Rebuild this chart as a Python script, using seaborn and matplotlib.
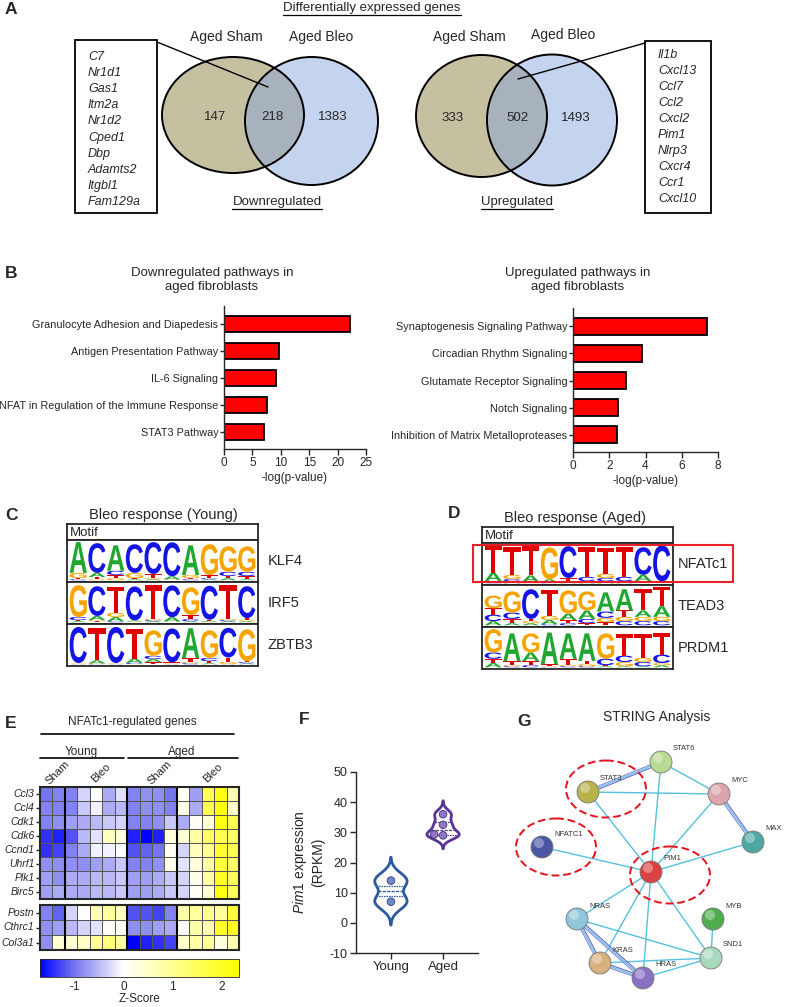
import numpy as np
import pandas as pd
import matplotlib
matplotlib.use('Agg')
import matplotlib.pyplot as plt
import seaborn as sns
from matplotlib.patches import Ellipse, Rectangle, Circle, PathPatch
from matplotlib.textpath import TextPath
from matplotlib.font_manager import FontProperties
from matplotlib.transforms import Affine2D
from matplotlib.colors import LinearSegmentedColormap

# ---- data ----
venn_down = [147, 218, 1383]
venn_up = [333, 502, 1493]
genes_down = ['C7', 'Nr1d1', 'Gas1', 'Itm2a', 'Nr1d2', 'Cped1', 'Dbp', 'Adamts2', 'Itgbl1', 'Fam129a']
genes_up = ['Il1b', 'Cxcl13', 'Ccl7', 'Ccl2', 'Cxcl2', 'Pim1', 'Nlrp3', 'Cxcr4', 'Ccr1', 'Cxcl10']

down_paths = ['Granulocyte Adhesion and Diapedesis', 'Antigen Presentation Pathway', 'IL-6 Signaling',
              'NFAT in Regulation of the Immune Response', 'STAT3 Pathway']
down_scores = [22.2, 9.7, 9.2, 7.5, 7.0]
up_paths = ['Synaptogenesis Signaling Pathway', 'Circadian Rhythm Signaling', 'Glutamate Receptor Signaling',
            'Notch Signaling', 'Inhibition of Matrix Metalloproteases']
up_scores = [7.4, 3.8, 2.9, 2.5, 2.4]

# motif letter heights per position, order A, C, G, T
klf4 = [[1.45, .05, .25, .05], [.2, 1.4, .05, .1], [1.2, .2, .1, .15], [.05, 1.35, .25, .05], [.05, 1.5, .05, .2],
        [.15, 1.6, .02, .02], [1.4, .05, .15, .05], [.05, .05, 1.45, .15], [.1, .2, 1.2, .1], [.05, .2, 1.2, .15]]
irf5 = [[.05, .15, 1.5, .05], [.2, 1.4, .05, .05], [.2, .05, .2, 1.2], [.05, 1.6, .02, .02], [.05, .05, .05, 1.6],
        [.2, 1.5, .02, .02], [.05, .1, 1.3, .2], [.05, 1.6, .02, .05], [.05, .05, .05, 1.6], [.05, 1.5, .05, .1]]
zbtb3 = [[.02, 1.7, .02, .02], [.15, .02, .02, 1.5], [.02, 1.7, .02, .02], [.2, .05, .02, 1.4], [.15, .15, 1.2, .1],
         [.02, 1.6, .02, .05], [1.4, .05, .05, .2], [.05, .15, 1.3, .1], [.02, 1.4, .1, .2], [.05, .05, 1.5, .05]]
nfatc1 = [[.4, .05, .05, 1.3], [.1, .1, .2, 1.3], [.3, .05, .02, 1.4], [.15, .02, 1.5, .02], [.05, 1.5, .05, .15],
          [.05, .2, .05, 1.4], [.1, .15, .2, 1.2], [.05, .2, .05, 1.4], [.3, 1.3, .05, .05], [.05, 1.7, .02, .02]]
tead3 = [[.2, .3, .6, .3], [.1, .3, 1.0, .2], [.1, 1.4, .1, .1], [.2, .05, .2, 1.2], [.3, .1, 1.1, .15],
         [.4, .2, .9, .1], [.9, .3, .2, .15], [1.0, .2, .2, .3], [.3, .2, .2, 1.0], [.5, .2, .2, .9]]
prdm1 = [[.2, .3, 1.1, .2], [1.3, .05, .05, .2], [.4, .1, .9, .2], [1.5, .02, .02, .1], [1.2, .05, .05, .3],
         [1.3, .05, .1, .15], [.05, .3, 1.2, .05], [.05, .3, .2, 1.0], [.05, .2, .2, 1.1], [.1, .4, .1, 1.0]]

heat_genes_top = ['Ccl3', 'Ccl4', 'Cdk1', 'Cdk6', 'Ccnd1', 'Uhrf1', 'Plk1', 'Birc5']
heat_top = [
    [-1.0, -0.9, -0.9, -0.3, 0.0, -0.6, -0.2, -0.9, -0.8, -0.8, -1.0, 0.1, -0.7, 1.6, 2.2, 0.7],
    [-0.9, -0.9, -0.9, -0.4, -0.1, -0.6, -0.5, -0.9, -0.8, -0.8, -0.9, 0.2, -0.6, 1.6, 2.2, 0.5],
    [-0.9, -0.8, -0.7, -0.6, -0.5, -0.4, -0.3, -0.9, -0.9, -0.8, -0.4, -0.6, 0.1, 0.4, 2.2, 1.6],
    [-1.4, -1.5, -1.2, -0.5, -0.2, 0.6, 0.3, -1.5, -1.7, -1.5, 0.3, 0.4, 0.8, 1.4, 1.6, 1.4],
    [-1.4, -1.3, -0.9, -0.6, -0.1, -0.1, 0.0, -1.2, -1.1, -1.0, 0.1, -0.3, 0.6, 1.0, 1.9, 1.6],
    [-0.8, -0.8, -0.8, -0.8, -0.7, -0.6, -0.4, -0.9, -0.9, -0.8, 0.2, -0.2, 0.3, 0.8, 1.8, 1.4],
    [-0.7, -0.8, -0.6, -0.6, -0.5, -0.5, -0.4, -0.7, -0.7, -0.6, -0.4, -0.3, 0.2, 0.8, 2.0, 1.5],
    [-0.7, -0.6, -0.6, -0.6, -0.5, -0.5, -0.4, -0.7, -0.7, -0.6, -0.4, -0.3, 0.1, 0.4, 2.2, 1.5],
]
heat_genes_bottom = ['Postn', 'Cthrc1', 'Col3a1']
heat_bottom = [
    [-0.9, -1.1, -0.3, 0.0, 0.7, 0.9, 0.6, -1.2, -1.2, -1.3, -0.9, 0.8, 0.9, 1.0, 0.9, 1.8],
    [-0.8, -0.7, -0.5, -0.3, -0.2, 0.1, 0.1, -0.8, -0.8, -0.7, -0.6, 0.0, 0.8, 0.7, 2.0, 2.0],
    [-0.8, 0.4, 0.4, 0.5, 1.0, 1.2, 0.9, -1.7, -1.5, -1.4, -1.3, 0.5, 0.8, 1.0, 0.3, 0.7],
]

pim1_young = [7.0, 14.0]
pim1_aged = [29.0, 29.3, 32.5, 36.0]

net_nodes = ['STAT6', 'STAT3', 'MYC', 'MAX', 'NFATC1', 'PIM1', 'NRAS', 'MYB', 'SND1', 'KRAS', 'HRAS']
net_colors = ['#b9da92', '#b8b24a', '#dca4ac', '#4ea8a2', '#4b56a3', '#d94343', '#90c6da', '#4fac4f',
              '#a9d9bd', '#d9b07f', '#8a70c2']
net_edges = [('STAT6', 'MYC'), ('STAT6', 'PIM1'), ('STAT3', 'MYC'), ('STAT3', 'PIM1'), ('MYC', 'PIM1'),
             ('MAX', 'PIM1'), ('NFATC1', 'PIM1'), ('PIM1', 'NRAS'), ('PIM1', 'KRAS'), ('PIM1', 'HRAS'),
             ('PIM1', 'SND1'), ('MYB', 'SND1'), ('NRAS', 'SND1'), ('KRAS', 'SND1'), ('HRAS', 'SND1')]
net_multi = [('STAT6', 'STAT3'), ('MYC', 'MAX'), ('NRAS', 'KRAS'), ('NRAS', 'HRAS'), ('KRAS', 'HRAS')]
# node layout in pixels
net_pos = {'STAT6': (661, 762), 'STAT3': (588, 792), 'MYC': (719, 794), 'MAX': (753, 842), 'NFATC1': (542, 847),
           'PIM1': (651, 872), 'NRAS': (577, 919), 'MYB': (713, 919), 'SND1': (711, 958), 'KRAS': (600, 963),
           'HRAS': (643, 978)}

# ---- style ----
sns.set_style('ticks')
plt.rcParams['font.family'] = ['Liberation Sans', 'DejaVu Sans']
plt.rcParams['mathtext.fontset'] = 'custom'
plt.rcParams['mathtext.it'] = 'Liberation Sans:italic'
plt.rcParams['mathtext.rm'] = 'Liberation Sans'
plt.rcParams['axes.linewidth'] = 1.0
plt.rcParams['axes.unicode_minus'] = False

W, H = 786, 1007
fig = plt.figure(figsize=(W / 100, H / 100), dpi=100)


def px_axes(x0, y0, x1, y1, **kw):
    return fig.add_axes([x0 / W, 1 - y1 / H, (x1 - x0) / W, (y1 - y0) / H], **kw)


ov = px_axes(0, 0, W, H, zorder=10)
ov.set_xlim(0, W)
ov.set_ylim(H, 0)
ov.axis('off')

# panel letters
for lab, x, y in [('A', 5, 9), ('B', 5, 273), ('C', 5, 516), ('D', 448, 514), ('E', 5, 723), ('F', 299, 719),
                  ('G', 517, 721)]:
    ov.text(x, y, lab, fontsize=12.5, fontweight='bold', va='center', ha='left')

# ---- A: venns ----
t_deg = ov.text(372, 8, 'Differentially expressed genes', fontsize=9.5, ha='center', va='center')


def venn(c1, s1, c2, s2, counts, xs, y):
    e1 = Ellipse(c1, s1[0], s1[1], fc='#c4c0a0', ec='none')
    e2 = Ellipse(c2, s2[0], s2[1], fc='#c5d4ee', ec='none')
    ov.add_patch(e1)
    ov.add_patch(e2)
    mid = Ellipse(c2, s2[0], s2[1], fc='#a8b2bd', ec='none')
    ov.add_patch(mid)
    mid.set_clip_path(e1)
    ov.add_patch(Ellipse(c1, s1[0], s1[1], fill=False, ec='black', lw=1.4))
    ov.add_patch(Ellipse(c2, s2[0], s2[1], fill=False, ec='black', lw=1.4))
    for n, x in zip(counts, xs):
        ov.text(x, y, str(n), fontsize=9.5, ha='center', va='center')


venn((233, 115), (142, 116), (311.5, 121), (133, 128), venn_down, [215, 272, 333], 117)
venn((481.5, 116), (131, 122), (552, 120), (130, 131), venn_up, [453, 517, 576], 118)
for x, y, s in [(226, 37, 'Aged Sham'), (321, 37, 'Aged Bleo'), (469, 37, 'Aged Sham'), (563, 35, 'Aged Bleo')]:
    ov.text(x, y, s, fontsize=10, ha='center', va='center')
t_dn = ov.text(277, 202, 'Downregulated', fontsize=9.5, ha='center', va='center')
t_upr = ov.text(517, 202, 'Upregulated', fontsize=9.5, ha='center', va='center')

ov.add_patch(Rectangle((75, 40), 82, 173, fill=False, ec='black', lw=1.3))
ov.add_patch(Rectangle((645, 41), 66, 172, fill=False, ec='black', lw=1.3))
for i, g in enumerate(genes_down):
    ov.text(88, 57 + i * 16.1, g, fontsize=9, style='italic', va='center')
for i, g in enumerate(genes_up):
    ov.text(658, 55 + i * 16, g, fontsize=9, style='italic', va='center')
ov.plot([157, 268], [42, 87], color='black', lw=1)
ov.plot([645, 518], [43, 79], color='black', lw=1)

# ---- B: pathway bars ----
ov.text(212, 280, 'Downregulated pathways in\naged fibroblasts', fontsize=9.5, ha='center', va='center',
        linespacing=1.2)
ov.text(578, 280, 'Upregulated pathways in\naged fibroblasts', fontsize=9.5, ha='center', va='center',
        linespacing=1.2)


def pathway_bars(ax, names, vals, xmax, step):
    df = pd.DataFrame({'pathway': names, 'score': vals})
    sns.barplot(data=df, x='score', y='pathway', color='red', saturation=1, edgecolor='black',
                linewidth=1.3, width=0.62, ax=ax)
    ax.set_xlim(0, xmax)
    ax.set_ylim(4.63, -0.67)
    ax.set_xticks(np.arange(0, xmax + 0.1, step))
    ax.set_xlabel('-log(p-value)', fontsize=8.5, labelpad=2)
    ax.set_ylabel('')
    sns.despine(ax=ax)
    ax.tick_params(axis='y', labelsize=7.8, length=3, width=1, pad=1)
    ax.tick_params(axis='x', labelsize=8.5, length=4, width=1, pad=2)
    ax.set_facecolor('none')


pathway_bars(px_axes(224, 306, 366, 449), down_paths, down_scores, 25, 5)
pathway_bars(px_axes(573, 308, 718, 452), up_paths, up_scores, 8, 2)

# ---- C / D: motif logos ----
LOGO_FP = FontProperties(family='Liberation Sans', weight='bold')
LETTER_COLORS = ['#22a632', '#1414e6', '#f7a400', '#e00000']


def draw_letter(ax, ch, x, y, w, h, color):
    tp = TextPath((0, 0), ch, size=1, prop=LOGO_FP)
    bb = tp.get_extents()
    t = Affine2D().translate(-bb.x0, -bb.y0).scale(w / bb.width, h / bb.height).translate(x, y)
    ax.add_patch(PathPatch(t.transform_path(tp), fc=color, ec='none'))


def motif_table(x0, x1, y_top, title, title_x, title_y, motifs, names, label_x):
    ov.text(title_x, title_y, title, fontsize=10.5, ha='center', va='center')
    hax = px_axes(x0, y_top, x1, y_top + 16)
    hax.set_xticks([])
    hax.set_yticks([])
    hax.text(0.015, 0.45, 'Motif', fontsize=9.5, va='center', ha='left', transform=hax.transAxes)
    for sp in hax.spines.values():
        sp.set_linewidth(1.3)
    for i, (mat, name) in enumerate(zip(motifs, names)):
        y0 = y_top + 16 + i * 42
        ax = px_axes(x0, y0, x1, y0 + 42)
        for pos, hts in enumerate(mat):
            y = 0
            for k in np.argsort(hts):
                draw_letter(ax, 'ACGT'[k], pos + 0.04, y, 0.92, hts[k], LETTER_COLORS[k])
                y += hts[k]
        ax.set_xlim(-0.1, len(mat) + 0.1)
        ax.set_ylim(-0.08, 1.9)
        ax.set_xticks([])
        ax.set_yticks([])
        for sp in ax.spines.values():
            sp.set_linewidth(1.3)
        ov.text(label_x, y0 + 21, name, fontsize=10.5, va='center', ha='left')


motif_table(67, 258, 524, 'Bleo response (Young)', 163, 515, [klf4, irf5, zbtb3], ['KLF4', 'IRF5', 'ZBTB3'], 268)
motif_table(482, 673, 527, 'Bleo response (Aged)', 575, 518, [nfatc1, tead3, prdm1], ['NFATc1', 'TEAD3', 'PRDM1'],
            678)
ov.add_patch(Rectangle((473, 545), 260, 37, fill=False, ec='#e8202a', lw=1.5))

# ---- E: heatmap ----
ov.text(132, 722, 'NFATc1-regulated genes', fontsize=8.5, ha='center', va='center')
ov.plot([41, 234], [734, 734], color='black', lw=1.2)
ov.text(81, 752, 'Young', fontsize=8.5, ha='center', va='center')
ov.text(182, 752, 'Aged', fontsize=8.5, ha='center', va='center')
ov.plot([40, 124], [758, 758], color='black', lw=1.2)
ov.plot([128, 238], [758, 758], color='black', lw=1.2)
for x, s in [(58, 'Sham'), (101, 'Bleo'), (160, 'Sham'), (213, 'Bleo')]:
    ov.text(x, 773, s, fontsize=8, rotation=45, ha='center', va='center')

zcmap = LinearSegmentedColormap.from_list('bwy', [(0, '#0000ff'), (0.17, '#7474f0'), (0.42, '#ffffff'),
                                                  (1, '#ffff00')])
ax_ht = px_axes(40, 787, 239, 899)
ax_hb = px_axes(40, 905, 239, 950)
cax = px_axes(40, 959, 239, 977)
sns.heatmap(pd.DataFrame(heat_top, index=heat_genes_top), ax=ax_ht, cmap=zcmap, vmin=-1.7, vmax=2.35,
            linewidths=0.5, linecolor='#555555', yticklabels=True, cbar=True, cbar_ax=cax,
            cbar_kws={'orientation': 'horizontal', 'ticks': [-1, 0, 1, 2]})
sns.heatmap(pd.DataFrame(heat_bottom, index=heat_genes_bottom), ax=ax_hb, cmap=zcmap, vmin=-1.7, vmax=2.35,
            linewidths=0.5, linecolor='#555555', yticklabels=True, cbar=False)
for ax in (ax_ht, ax_hb):
    ax.set_xticks([])
    ax.tick_params(axis='y', labelsize=7.5, length=3, width=1, pad=1, left=True)
    for t in ax.get_yticklabels():
        t.set_style('italic')
        t.set_rotation(0)
    for c in (2, 7, 11):
        ax.axvline(c, color='black', lw=1.5)
    for sp in ax.spines.values():
        sp.set_visible(True)
        sp.set_linewidth(1.5)
cax.tick_params(labelsize=8.5, length=0, pad=3)
cax.set_xlabel('Z-Score', fontsize=8.5, labelpad=0)
ax_ht.collections[0].colorbar.outline.set_linewidth(0.6)

# ---- F: violin ----
axf = px_axes(356, 772, 478, 953)
dfv = pd.DataFrame({'group': ['Young'] * len(pim1_young) + ['Aged'] * len(pim1_aged),
                    'rpkm': pim1_young + pim1_aged})
vcols = {'Young': '#2b5b9e', 'Aged': '#5a3494'}
pcols = {'Young': '#6a8cc8', 'Aged': '#9474c4'}
sns.violinplot(data=dfv, x='group', y='rpkm', hue='group', palette=vcols, fill=False, inner='quart',
               linewidth=2, width=0.62, density_norm='width', bw_adjust=0.6, cut=3, legend=False,
               inner_kws={'linewidth': 0.9}, ax=axf)
sns.swarmplot(data=dfv, x='group', y='rpkm', hue='group', palette=pcols, size=5.5, edgecolor='#3a3a7a',
              linewidth=0.6, legend=False, ax=axf)
axf.set_xlim(-0.67, 1.67)
axf.set_ylim(-10, 50)
axf.set_yticks(range(-10, 51, 10))
axf.set_xlabel('')
axf.set_ylabel(r'$\mathit{Pim1}$ expression' + '\n(RPKM)', fontsize=10, labelpad=3)
sns.despine(ax=axf)
axf.tick_params(labelsize=9, length=4, width=1, pad=2)
axf.tick_params(axis='x', labelsize=9.5)
axf.set_facecolor('none')

# ---- G: STRING network ----
ov.text(657, 717, 'STRING Analysis', fontsize=10, ha='center', va='center')
for a, b in net_edges:
    (xa, ya), (xb, yb) = net_pos[a], net_pos[b]
    ov.plot([xa, xb], [ya, yb], color='#55c1dd', lw=1.0, zorder=1)
for a, b in net_multi:
    (xa, ya), (xb, yb) = net_pos[a], net_pos[b]
    d = np.array([yb - ya, xa - xb], dtype=float)
    d = d / np.hypot(*d) * 1.5
    for k, col in zip((-1, 0, 1), ('#8a86d6', '#55c1dd', '#6a6ad0')):
        ov.plot([xa + k * d[0], xb + k * d[0]], [ya + k * d[1], yb + k * d[1]], color=col, lw=0.8, zorder=1)
for name, col in zip(net_nodes, net_colors):
    x, y = net_pos[name]
    ov.add_patch(Circle((x, y), 11, fc=col, ec='#777777', lw=0.6, zorder=2))
    ov.add_patch(Circle((x - 3, y - 4), 5, fc='white', ec='none', alpha=0.35, zorder=3))
    ov.text(x + 12, y - 13, name, fontsize=5.5, color='#333333', va='center', ha='left', zorder=4)
for c in [(606, 789), (556, 847), (670, 875)]:
    ov.add_patch(Ellipse(c, 80, 57, fill=False, ec='#e8101a', ls=(0, (4, 2)), lw=1.4, zorder=5))

# underlines
fig.canvas.draw()
inv = ov.transData.inverted()
for t in (t_deg, t_dn, t_upr):
    bb = t.get_window_extent()
    (x0, y0), (x1, y1) = inv.transform([(bb.x0, bb.y0), (bb.x1, bb.y1)])
    ov.plot([x0, x1], [y0 + 0.5, y0 + 0.5], color='black', lw=0.9)

fig.savefig('out.png', dpi=100)
